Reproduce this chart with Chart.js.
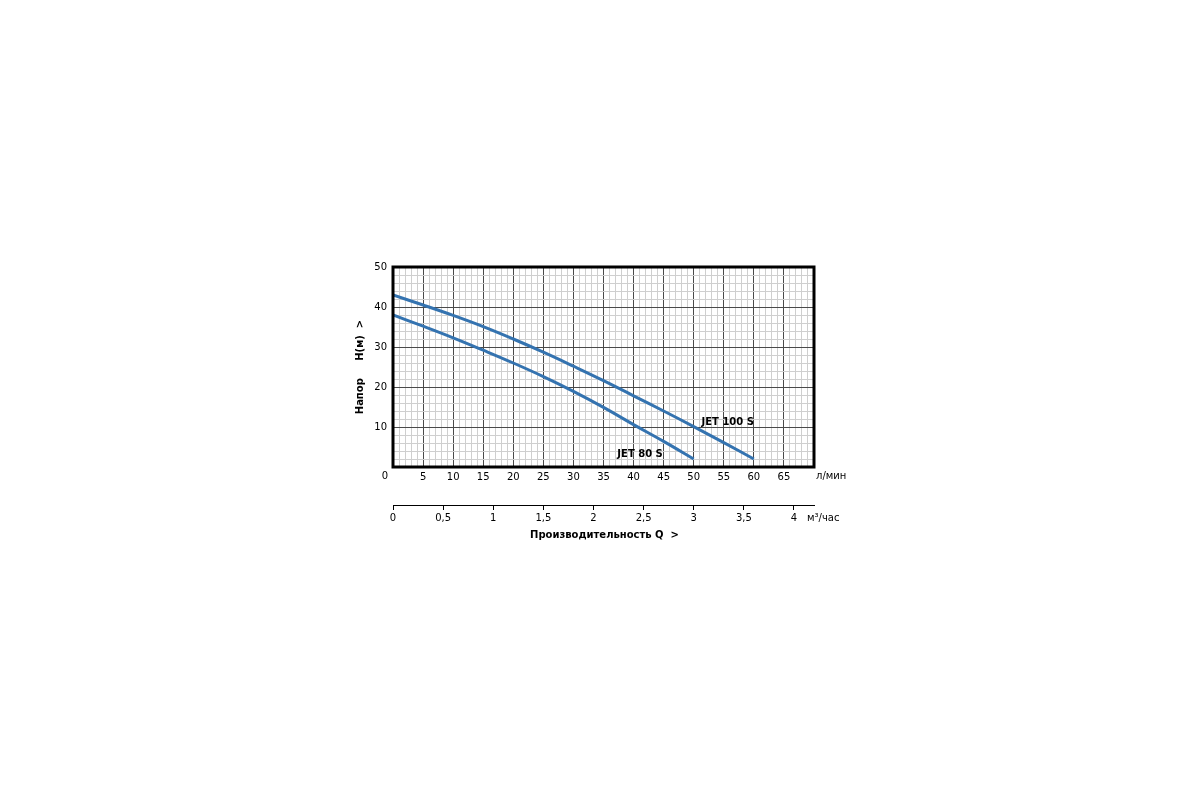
<!DOCTYPE html>
<html>
<head>
<meta charset="utf-8">
<script src="https://cdn.jsdelivr.net/npm/chart.js@4/dist/chart.umd.min.js"></script>
<style>
  html, body { margin: 0; padding: 0; background: #fff; }
  #wrap { width: 1200px; height: 800px; }
</style>
</head>
<body>
<div id="wrap"><canvas id="pumpChart" width="1200" height="800"></canvas></div>
<script>
// ---- данные ----
const Q_LMIN = [0, 5, 10, 15, 20, 25, 30, 35, 40, 45, 50, 55, 60];
const H_JET100 = [43, 40.5, 37.9, 35.1, 32.0, 28.7, 25.2, 21.6, 17.8, 14.0, 10.1, 6.1, 2];
const H_JET80 = [38, 35.2, 32.3, 29.2, 26.0, 22.6, 18.9, 14.9, 10.6, 6.4, 2];
const SERIES_NAMES = ['JET 100 S', 'JET 80 S'];
const X_MAX = 70, Y_MAX = 50;
const Q_M3H_MAX = 4.2;   // 70 л/мин = 4,2 м³/час

const FONT = 'Verdana, "DejaVu Sans", sans-serif';
const LINE_COLOR = '#3473b0';

const pts = (ys) => ys.map((y, i) => ({ x: Q_LMIN[i], y }));

// рамка и подписи, которых нет в Chart.js
const extras = {
  id: 'extras',
  afterDraw(chart) {
    const { ctx, chartArea: a, scales } = chart;
    ctx.save();
    ctx.strokeStyle = '#000';
    ctx.lineWidth = 3;
    ctx.strokeRect(a.left, a.top, a.right - a.left, a.bottom - a.top);

    ctx.fillStyle = '#000';
    ctx.textBaseline = 'middle';
    ctx.font = '10px ' + FONT;
    ctx.textAlign = 'center';
    ctx.fillText('0', a.left - 8, a.bottom + 9);
    ctx.textAlign = 'left';
    ctx.fillText('л/мин', a.right + 2, a.bottom + 9);
    ctx.fillText('м³/час', a.right - 7, a.bottom + 51);

    ctx.font = 'bold 10px ' + FONT;
    ctx.textAlign = 'center';
    ctx.fillText('Производительность Q  >', (a.left + a.right) / 2 + 1, a.bottom + 68);

    // подписи кривых
    const xs = scales.x, ys = scales.y;
    ctx.textAlign = 'left';
    ctx.fillText(SERIES_NAMES[0], xs.getPixelForValue(51.3), ys.getPixelForValue(11.2));
    ctx.fillText(SERIES_NAMES[1], xs.getPixelForValue(37.3), ys.getPixelForValue(3.2));

    // заголовок оси Y
    ctx.translate(a.left - 33, (a.top + a.bottom) / 2);
    ctx.rotate(-Math.PI / 2);
    ctx.textAlign = 'center';
    ctx.fillText('Напор     H(м)  >', 0, 0);
    ctx.restore();
  }
};

new Chart(document.getElementById('pumpChart'), {
  type: 'line',
  data: {
    datasets: [
      { label: SERIES_NAMES[0], data: pts(H_JET100) },
      { label: SERIES_NAMES[1], data: pts(H_JET80) }
    ].map(d => ({
      ...d,
      borderColor: LINE_COLOR,
      borderWidth: 3,
      pointRadius: 0,
      tension: 0.4,
      fill: false
    }))
  },
  options: {
    responsive: false,
    animation: false,
    layout: { padding: { top: 267, left: 343, right: 386, bottom: 270 } },
    plugins: { legend: { display: false }, tooltip: { enabled: false } },
    scales: {
      x: {
        type: 'linear', position: 'bottom', weight: 0,
        min: 0, max: X_MAX,
        afterFit: (s) => { s.height = 38; },
        border: { display: false },
        grid: {
          drawTicks: false,
          color: (c) => c.tick.value % 5 === 0 ? '#4a4a4a' : '#cfcfcf'
        },
        ticks: {
          stepSize: 1, autoSkip: false, maxTicksLimit: 200, maxRotation: 0,
          padding: 4, color: '#000', font: { family: FONT, size: 10 },
          callback: (v) => (v % 5 === 0 && v > 0 && v < X_MAX) ? String(v) : ''
        }
      },
      x2: {
        type: 'linear', position: 'bottom', weight: 1,
        min: 0, max: Q_M3H_MAX,
        afterFit: (s) => { s.height = 25; },
        border: { display: true, color: '#000', width: 1 },
        grid: { drawOnChartArea: false, drawTicks: true, tickLength: 5, color: '#000' },
        ticks: {
          stepSize: 0.5, includeBounds: false, maxRotation: 0, padding: 2,
          color: '#000', font: { family: FONT, size: 10 },
          callback: (v) => String(v).replace('.', ',')
        }
      },
      y: {
        type: 'linear', min: 0, max: Y_MAX,
        afterFit: (s) => { s.width = 50; },
        border: { display: false },
        grid: {
          drawTicks: false,
          color: (c) => c.tick.value % 10 === 0 ? '#4a4a4a' : '#cfcfcf'
        },
        ticks: {
          stepSize: 2, autoSkip: false, padding: 6,
          color: '#000', font: { family: FONT, size: 10 },
          callback: (v) => (v % 10 === 0 && v > 0) ? String(v) : ''
        }
      }
    }
  },
  plugins: [extras]
});
</script>
</body>
</html>
